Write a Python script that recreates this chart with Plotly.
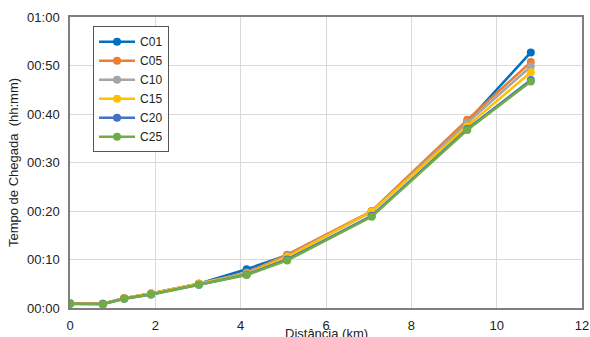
import plotly.graph_objects as go

distance_km = [0, 0.77, 1.27, 1.9, 3.02, 4.14, 5.09, 7.07, 9.31, 10.8]
series_names = ["C01", "C05", "C10", "C15", "C20", "C25"]
# arrival times in minutes
c01 = [1.0, 0.9, 2.0, 3.0, 5.0, 8.0, 10.9, 19.9, 38.4, 52.7]
c05 = [1.0, 0.9, 2.0, 3.0, 5.0, 7.3, 11.0, 20.0, 38.8, 50.7]
c10 = [1.0, 0.9, 2.0, 3.0, 5.0, 7.2, 10.7, 19.8, 38.2, 49.8]
c15 = [1.0, 0.9, 2.0, 3.0, 5.0, 7.0, 10.5, 19.9, 37.5, 48.6]
c20 = [0.9, 0.8, 1.9, 2.8, 4.8, 6.9, 10.0, 19.0, 36.9, 47.0]
c25 = [0.85, 0.75, 1.9, 2.8, 4.8, 6.8, 9.8, 18.8, 36.7, 46.7]
series_values = [c01, c05, c10, c15, c20, c25]
colors = ["#0070C0", "#ED7D31", "#A5A5A5", "#FFC000", "#4472C4", "#70AD47"]

y_tick_vals = [0, 10, 20, 30, 40, 50, 60]
y_tick_text = ["00:00", "00:10", "00:20", "00:30", "00:40", "00:50", "01:00"]
x_tick_vals = [0, 2, 4, 6, 8, 10, 12]

fig = go.Figure()
for name, vals, col in zip(series_names, series_values, colors):
    fig.add_trace(go.Scatter(
        x=distance_km, y=vals, name=name, mode="lines+markers",
        line=dict(color=col, width=2.5),
        marker=dict(color=col, size=8),
    ))

font_family = "Liberation Sans, Arial, sans-serif"
fig.update_layout(
    width=590, height=337,
    margin=dict(l=70, r=8, t=17, b=29),
    paper_bgcolor="white", plot_bgcolor="white",
    font=dict(family=font_family, size=13, color="#222"),
    showlegend=True,
    legend=dict(
        x=0.045, y=0.968, xanchor="left", yanchor="top",
        bgcolor="white", bordercolor="#555", borderwidth=1,
        font=dict(size=12, color="#222"),
        tracegroupgap=0, itemwidth=36, entrywidth=78,
    ),
    xaxis=dict(
        range=[0, 12], tickvals=x_tick_vals,
        showgrid=True, gridcolor="#d9d9d9", gridwidth=1,
        showline=True, linecolor="#7f7f7f", linewidth=1.5, mirror=True,
        zeroline=False, ticks="", ticklabelstandoff=5,
        automargin=False,
    ),
    yaxis=dict(
        range=[0, 60], tickvals=y_tick_vals, ticktext=y_tick_text,
        showgrid=True, gridcolor="#d9d9d9", gridwidth=1,
        showline=True, linecolor="#7f7f7f", linewidth=1.5, mirror=True,
        zeroline=False, ticks="", ticklabelstandoff=6,
        title=dict(text="Tempo de Chegada  (hh:mm)", standoff=6, font=dict(size=13)),
        automargin=False,
    ),
    annotations=[dict(
        text="Distância (km)", xref="paper", yref="paper",
        x=0.5, y=-0.087, xanchor="center", yanchor="middle",
        showarrow=False, font=dict(size=13, color="#222"),
    )],
)

fig.write_html(
    "out.html",
    config={"displayModeBar": False},
    post_script="document.body.style.margin='0';document.body.style.overflow='hidden';",
)
